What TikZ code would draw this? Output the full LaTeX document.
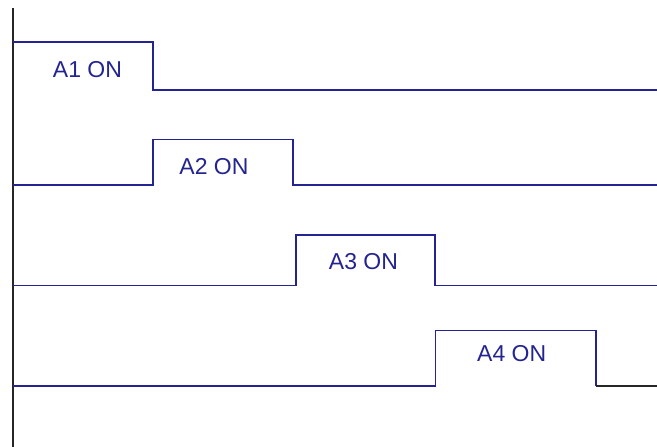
\documentclass[tikz,border=0pt]{standalone}
\usepackage{fontspec}
\setmainfont{Liberation Sans}
\definecolor{wave}{RGB}{35,35,145}
\begin{document}
\begin{tikzpicture}[x=1pt,y=-1pt,
  sig/.style={draw=wave,line width=1.8pt,line join=miter},
  lbl/.style={text=wave,font=\fontsize{23}{25}\selectfont,inner sep=0pt,anchor=center},
  rail/.style={draw=black!85,line width=1.9pt}]
\useasboundingbox (0,0) rectangle (657,447);
\coordinate (railtop) at (13.3,8);
\coordinate (railbot) at (13.3,447);
\draw[rail] (railtop) -- (railbot);
% A1
\coordinate (a1s) at (13.3,41.7);
\coordinate (a1e) at (657,90);
\draw[sig] (a1s) -- (153.3,41.7) -- (153.3,90) -- (a1e);
\node[lbl] (t1) at (87.5,70) {A1 ON};
% A2
\coordinate (a2s) at (13.3,185);
\coordinate (a2e) at (657,185);
\draw[sig] (a2s) -- (153.3,185) -- (153.3,139.5) -- (293.3,139.5) -- (293.3,185) -- (a2e);
\node[lbl] (t2) at (214,167) {A2 ON};
% A3
\coordinate (a3s) at (13.3,285.5);
\coordinate (a3e) at (657,285.5);
\draw[sig] (a3s) -- (295.7,285.5) -- (295.7,235.3) -- (435.3,235.3) -- (435.3,285.5) -- (a3e);
\node[lbl] (t3) at (363.5,262) {A3 ON};
% A4
\coordinate (a4s) at (13.3,386);
\coordinate (a4e) at (657,386);
\draw[sig] (a4s) -- (435.5,386) -- (435.5,330.5) -- (595.7,330.5) -- (595.7,386);
\draw[draw=black!85,line width=1.8pt] (595.7,386) -- (a4e);
\node[lbl] (t4) at (511.7,354) {A4 ON};
\end{tikzpicture}
\end{document}
